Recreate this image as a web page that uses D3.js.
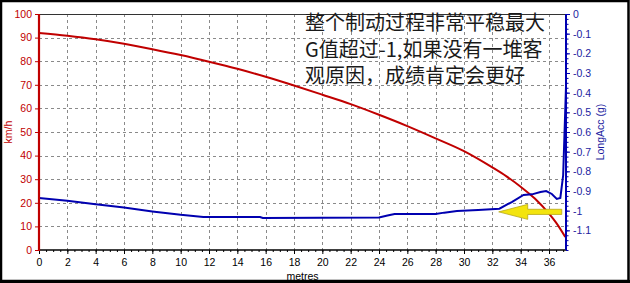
<!DOCTYPE html>
<html>
<head>
<meta charset="utf-8">
<script src="https://cdn.jsdelivr.net/npm/d3@7"></script>
<style>
html, body { margin: 0; padding: 0; background: #fff; }
svg { display: block; }
</style>
</head>
<body>
<div id="chart"></div>
<script>
// speed trace, km/h against distance in metres
const speedDist = [0, 2, 4, 6, 8, 10, 12, 14, 16, 18, 20, 22, 24, 26, 28, 30, 32, 33, 34, 35, 36, 36.5, 37.15];
const speedKmh = [92, 90.8, 89.3, 87.4, 85.1, 82.6, 79.8, 76.8, 73.4, 69.7, 65.8, 61.8, 57.3, 52.5, 47.3, 41.9, 35, 31.2, 26.8, 21.8, 15.4, 11.6, 5.5];

// longitudinal acceleration, g
const accDist = [0, 2, 4, 6, 8, 10, 11.6, 15.6, 15.8, 24, 24.6, 25.1, 28, 28.6, 29.5, 31, 32.5, 33.4, 34.2, 34.8, 35.4, 35.8, 36.2, 36.55, 36.8, 37.0, 37.2];
const accG = [-0.935, -0.95, -0.967, -0.984, -1.004, -1.021, -1.032, -1.032, -1.037, -1.035, -1.025, -1.017, -1.017, -1.01, -1.002, -0.997, -0.99, -0.955, -0.92, -0.917, -0.905, -0.9, -0.915, -0.94, -0.935, -0.82, -0.37];

const distTicks = d3.range(0, 37, 2);
const speedTicks = d3.range(0, 101, 10);
const accTicks = [0, -0.1, -0.2, -0.3, -0.4, -0.5, -0.6, -0.7, -0.8, -0.9, -1, -1.1];

const noteLines = ['整个制动过程非常平稳最大', 'G值超过-1,如果没有一堆客', '观原因，成绩肯定会更好'];

const W = 630, H = 283;
const plot = { left: 39, right: 566, top: 14, bottom: 250 };
const red = '#c00000', blue = '#0000b0';

const svg = d3.select('#chart').append('svg')
    .attr('width', W)
    .attr('height', H)
    .style('font-family', '"Liberation Sans", Arial, sans-serif');

svg.append('rect')
    .attr('width', W).attr('height', H)
    .style('fill', '#fff');

const x = d3.scaleLinear().domain([0, 37.2]).range([plot.left, plot.right]);
const ySpeed = d3.scaleLinear().domain([0, 100]).range([plot.bottom, plot.top]);
const yAcc = d3.scaleLinear().domain([-1.2, 0]).range([plot.bottom, plot.top]);

// grid
const grid = svg.append('g')
    .style('stroke', '#8a8a8a')
    .style('stroke-width', 1)
    .style('stroke-dasharray', '3,3');

grid.selectAll('.vg').data(distTicks.filter(d => d > 0))
    .enter().append('line')
    .attr('x1', d => Math.round(x(d)) + 0.5).attr('x2', d => Math.round(x(d)) + 0.5)
    .attr('y1', plot.top).attr('y2', plot.bottom);

grid.selectAll('.hg').data(speedTicks.filter(d => d > 0 && d < 100))
    .enter().append('line')
    .attr('x1', plot.left).attr('x2', plot.right)
    .attr('y1', d => Math.round(ySpeed(d)) + 0.5).attr('y2', d => Math.round(ySpeed(d)) + 0.5);

// top border
svg.append('line')
    .attr('x1', plot.left).attr('x2', plot.right)
    .attr('y1', plot.top + 0.5).attr('y2', plot.top + 0.5)
    .style('stroke', '#333').style('stroke-width', 1);

// annotation text
svg.append('g').selectAll('text').data(noteLines)
    .enter().append('text')
    .attr('x', 305)
    .attr('y', (d, i) => 30 + i * 26.5)
    .style('font-family', '"Noto Sans CJK SC", sans-serif')
    .style('font-size', '20px')
    .style('fill', '#1a1a1a')
    .text(d => d);

// lines
const speedLine = d3.line()
    .x((d, i) => x(speedDist[i]))
    .y(d => ySpeed(d))
    .curve(d3.curveMonotoneX);

svg.append('path')
    .attr('d', speedLine(speedKmh))
    .style('fill', 'none')
    .style('stroke', red)
    .style('stroke-width', 2);

const accLine = d3.line()
    .x((d, i) => x(accDist[i]))
    .y(d => yAcc(d));

svg.append('path')
    .attr('d', accLine(accG))
    .style('fill', 'none')
    .style('stroke', blue)
    .style('stroke-width', 2);

// yellow arrow, pointing at the -1 g level
const ax0 = x(32.45), ax1 = x(36.9), ay = yAcc(-1.0) + 1.2;
const headLen = 29, headHalf = 7.5, shaftHalf = 2.6;
svg.append('path')
    .attr('d', `M${ax0},${ay} L${ax0 + headLen},${ay - headHalf} L${ax0 + headLen},${ay - shaftHalf}
        L${ax1},${ay - shaftHalf} L${ax1},${ay + shaftHalf} L${ax0 + headLen},${ay + shaftHalf}
        L${ax0 + headLen},${ay + headHalf} Z`)
    .style('fill', '#f3e40e')
    .style('stroke', '#b8a818')
    .style('stroke-width', 0.8);

// axes
const fmtAcc = d => String(+d.toFixed(1));

const xAxis = svg.append('g')
    .attr('transform', `translate(0,${plot.bottom})`)
    .call(d3.axisBottom(x).tickValues(distTicks).tickSize(4).tickPadding(5).tickFormat(d => d));
xAxis.select('.domain').remove();
xAxis.selectAll('.tick line').style('stroke', '#000');
xAxis.selectAll('text').style('font-size', '10.5px').style('fill', '#000');
svg.append('g')
    .attr('transform', `translate(0,${plot.bottom})`)
    .call(d3.axisBottom(x).tickValues(d3.range(0, 37.1, 0.5)).tickSize(2).tickFormat(''))
    .call(g => g.select('.domain').remove())
    .selectAll('line').style('stroke', '#000');
svg.append('line')
    .attr('x1', plot.left).attr('x2', plot.right)
    .attr('y1', plot.bottom).attr('y2', plot.bottom)
    .style('stroke', '#000').style('stroke-width', 1.5);

const leftAxis = svg.append('g')
    .attr('transform', `translate(${plot.left},0)`)
    .call(d3.axisLeft(ySpeed).tickValues(speedTicks).tickSize(4).tickPadding(3));
leftAxis.select('.domain').remove();
leftAxis.selectAll('.tick line').style('stroke', red);
leftAxis.selectAll('text').style('font-size', '10.5px').style('fill', red);
svg.append('line')
    .attr('x1', plot.left).attr('x2', plot.left)
    .attr('y1', plot.top).attr('y2', plot.bottom + 1)
    .style('stroke', red).style('stroke-width', 2.2);

const rightAxis = svg.append('g')
    .attr('transform', `translate(${plot.right},0)`)
    .call(d3.axisRight(yAcc).tickValues(accTicks).tickSize(4).tickPadding(3).tickFormat(fmtAcc));
rightAxis.select('.domain').remove();
rightAxis.selectAll('.tick line').style('stroke', blue);
rightAxis.selectAll('text').style('font-size', '10.5px').style('fill', '#1c1ca0');
svg.append('g')
    .attr('transform', `translate(${plot.right},0)`)
    .call(d3.axisRight(yAcc).tickValues(d3.range(-1.2, 0.001, 0.025)).tickSize(2.5).tickFormat(''))
    .call(g => g.select('.domain').remove())
    .selectAll('line').style('stroke', blue);
svg.append('line')
    .attr('x1', plot.right).attr('x2', plot.right)
    .attr('y1', plot.top).attr('y2', plot.bottom)
    .style('stroke', blue).style('stroke-width', 2);

// axis titles
svg.append('text')
    .attr('transform', `translate(12,${(plot.top + plot.bottom) / 2}) rotate(-90)`)
    .attr('text-anchor', 'middle')
    .style('font-size', '10.5px')
    .style('fill', red)
    .text('km/h');

svg.append('text')
    .attr('transform', `translate(604,${(plot.top + plot.bottom) / 2}) rotate(-90)`)
    .attr('text-anchor', 'middle')
    .style('font-size', '10.5px')
    .style('fill', '#1c1ca0')
    .text('LongAcc (g)');

svg.append('text')
    .attr('x', (plot.left + plot.right) / 2)
    .attr('y', 280)
    .attr('text-anchor', 'middle')
    .style('font-size', '10.5px')
    .style('fill', '#000')
    .text('metres');

// outer frame
svg.append('rect')
    .attr('x', 1).attr('y', 1)
    .attr('width', W - 2.5).attr('height', H - 3)
    .style('fill', 'none')
    .style('stroke', '#000')
    .style('stroke-width', 2.5);
svg.append('line')
    .attr('x1', 0).attr('x2', W)
    .attr('y1', H - 1.5).attr('y2', H - 1.5)
    .style('stroke', '#000').style('stroke-width', 3);
</script>
</body>
</html>
